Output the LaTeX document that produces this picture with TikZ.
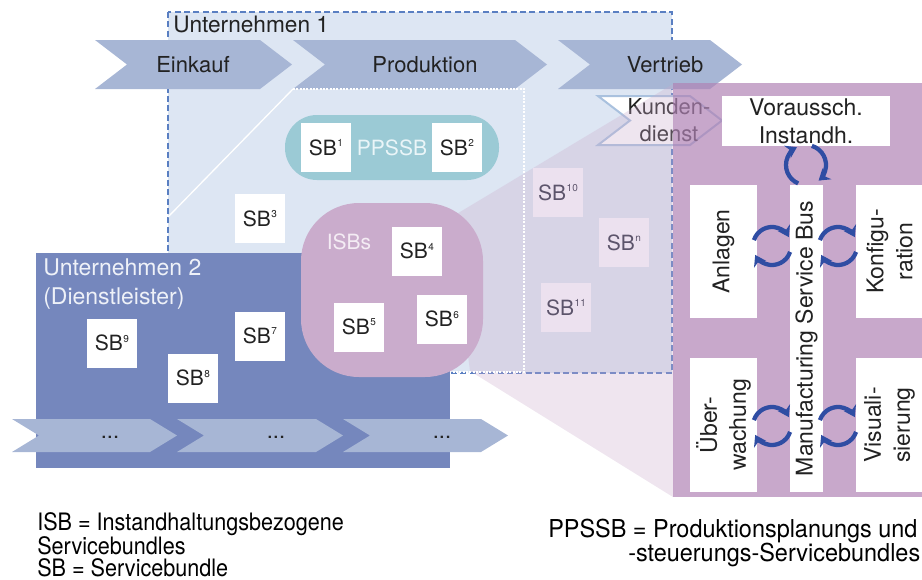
\documentclass[tikz,border=0pt]{standalone}
\usepackage{fontspec}
\setmainfont{TeX Gyre Heros}
\newfontfamily\legendL[FakeStretch=0.9]{TeX Gyre Heros}
\newfontfamily\legendR[FakeStretch=0.95]{TeX Gyre Heros}
\usetikzlibrary{arrows.meta}

\definecolor{unefill}{HTML}{DDE6F3}
\definecolor{uneline}{HTML}{5A7FC2}
\definecolor{chevcol}{HTML}{A7B6D5}
\definecolor{kdline}{HTML}{A9C1DE}
\definecolor{pillcol}{HTML}{9BCAD5}
\definecolor{pilltext}{HTML}{EAF5F8}
\definecolor{unzfill}{HTML}{7587BD}
\definecolor{unztext}{HTML}{EEF1F8}
\definecolor{isbcol}{HTML}{CAACCC}
\definecolor{isbtext}{HTML}{F4ECF4}
\definecolor{palesb}{HTML}{ECE1EF}
\definecolor{palesbtext}{HTML}{5C546B}
\definecolor{panelbase}{HTML}{B083B5}
\definecolor{cycblue}{HTML}{2F4DA3}
\definecolor{textdark}{HTML}{222222}

\newcommand\fsz[1]{\fontsize{#1}{#1}\selectfont}
\newcommand\sbl[1]{SB\kern0.4pt\raisebox{6.5pt}{\fontsize{7.5}{7.5}\selectfont #1}}

\begin{document}
\begin{tikzpicture}[x=0.75pt,y=-0.75pt,
  chevlabel/.style={font=\fsz{16.5}, text=textdark, inner sep=0},
  sbbox/.style={fill=white, minimum width=37.5pt, minimum height=36.75pt, inner sep=0,
    font=\fsz{15.75}, text=textdark},
  palebox/.style={sbbox, fill=palesb, text=palesbtext},
  wbox/.style={fill=white, inner sep=1pt, font=\fsz{17.25}, text=textdark, align=center},
  cyc/.style={draw=cycblue, line width=3.2pt, -{Stealth[length=8pt,width=10.5pt]}},
  legend/.style={anchor=north west, align=left, inner sep=0, text=black}]

\useasboundingbox (0,0) rectangle (922,579);

% ---------- Unternehmen 1 ----------
\fill[unefill] (168,12) rectangle (672,373);
\draw[uneline, line width=1pt, dash pattern=on 4.5pt off 2.5pt] (168,12) rectangle (672,373);
\node[anchor=west, inner sep=0, font=\fsz{17}, text=textdark] (une) at (173,24) {Unternehmen 1};

% value chain of company 1
\fill[chevcol] (95,40) -- (260,40) -- (292,64.5) -- (260,89) -- (95,89) -- (127,64.5) -- cycle;
\fill[chevcol] (293,40) -- (515,40) -- (547,64.5) -- (515,89) -- (293,89) -- (325,64.5) -- cycle;
\fill[chevcol] (558,40) -- (710,40) -- (742,64.5) -- (710,89) -- (558,89) -- (590,64.5) -- cycle;
\node[chevlabel] (einkauf) at (193,65) {Einkauf};
\node[chevlabel] (prod) at (425,65) {Produktion};
\node[chevlabel] (vertrieb) at (665,65) {Vertrieb};

% customer service step
\draw[kdline, line width=1.5pt, fill=white] (598,96) -- (690,96) -- (722,120.5) -- (690,145) -- (598,145) -- (630,120.5) -- cycle;
\node[align=center, inner sep=0, font=\fontsize{16.5}{20}\selectfont, text=textdark] (kunden) at (669,120) {Kunden-\\dienst};

% projection of the maintenance bundles onto the service bus
\fill[isbcol, opacity=0.31] (450,218) -- (673,84) -- (673,497) -- (470,371) -- cycle;

% projection of the production step
\draw[white, line width=1pt] (168,217) -- (293,89);
\draw[white, line width=1pt, dash pattern=on 1.5pt off 1pt] (293,89) -- (524,89) -- (524,372) -- (450,372);

% PPSSB group
\node[fill=pillcol, rounded corners=24pt, minimum width=160.5pt, minimum height=48.75pt,
      font=\fsz{15.75}, text=pilltext, inner sep=0] (ppssb) at (392,147.5) {PPSSB};
\node[sbbox] (sb1) at (326,147.5) {\sbl{1}};
\node[sbbox] (sb2) at (457,147.5) {\sbl{2}};
\node[sbbox] (sb3) at (260,218.5) {\sbl{3}};

% ---------- Unternehmen 2 ----------
\node[fill=unzfill, minimum width=310.5pt, minimum height=161.25pt, inner sep=0] (unz) at (243,360.5) {};
\node[anchor=north west, align=left, inner sep=0, font=\fontsize{17.25}{21.75}\selectfont, text=unztext]
  (unzlabel) at (43,258) {Unternehmen 2\\(Dienstleister)};

% value chain of company 2
\fill[chevcol] (12,419) -- (150,419) -- (177,435.5) -- (150,452) -- (12,452) -- (39,435.5) -- cycle;
\fill[chevcol] (177,419) -- (316,419) -- (343,435.5) -- (316,452) -- (177,452) -- (204,435.5) -- cycle;
\fill[chevcol] (343,419) -- (481,419) -- (508,435.5) -- (481,452) -- (343,452) -- (370,435.5) -- cycle;
\node[chevlabel] (dotsa) at (110,437) {...};
\node[chevlabel] (dotsb) at (276,437) {...};
\node[chevlabel] (dotsc) at (442,437) {...};

\node[sbbox] (sb7) at (260,336) {\sbl{7}};
\node[sbbox] (sb8) at (193,378) {\sbl{8}};
\node[sbbox] (sb9) at (112,343) {\sbl{9}};

% ISB group
\node[fill=isbcol, rounded corners=43.5pt, minimum width=136.5pt, minimum height=130.5pt, inner sep=0] (isb) at (392,290) {};
\node[inner sep=0, font=\fsz{15.75}, text=isbtext] (isblabel) at (349,242) {ISBs};
\node[sbbox] (sb4) at (417,251) {\sbl{4}};
\node[sbbox] (sb5) at (359,327) {\sbl{5}};
\node[sbbox] (sb6) at (442,319) {\sbl{6}};

% further bundles
\node[palebox] (sb10) at (558,192.5) {\sbl{10}};
\node[palebox] (sbn) at (624,242.5) {\sbl{n}};
\node[palebox] (sb11) at (566,307.5) {\sbl{11}};

% ---------- Manufacturing Service Bus ----------
\fill[panelbase, opacity=0.7] (673,83) rectangle (922,497);

\node[wbox, minimum width=126pt, minimum height=37.5pt, font=\fontsize{17.25}{21}\selectfont] (vorau) at (806,121) {Voraussch.\\Instandh.};
\node[wbox, rotate=90, minimum width=99.75pt, minimum height=50.25pt] (anlagen) at (723.5,251.5) {Anlagen};
\node[wbox, rotate=90, minimum width=230.25pt, minimum height=24.75pt] (bus) at (806.5,338.5) {Manufacturing Service Bus};
\node[wbox, rotate=90, minimum width=99.75pt, minimum height=50.25pt, font=\fontsize{17.25}{21.75}\selectfont] (konfig) at (889.5,251.5) {Konfigu-\\ration};
\node[wbox, rotate=90, minimum width=100.5pt, minimum height=50.25pt, font=\fontsize{17.25}{21.75}\selectfont] (ueber) at (723.5,425) {Über-\\wachung};
\node[wbox, rotate=90, minimum width=100.5pt, minimum height=50.25pt, font=\fontsize{17.25}{21.75}\selectfont] (visual) at (889.5,425) {Visuali-\\sierung};

% exchange cycles between the services and the bus
\coordinate (cv) at (806,165);
\coordinate (cal) at (772,246);
\coordinate (ckr) at (838,246);
\coordinate (cul) at (772,426);
\coordinate (cvr) at (838,426);
\draw[cyc] (cv) ++(113:20) arc[start angle=113, end angle=243, radius=20];
\draw[cyc] (cv) ++(287:20) arc[start angle=287, end angle=411, radius=20];
\foreach \c in {cal,ckr,cul,cvr}{
  \draw[cyc] (\c) ++(198:19) arc[start angle=198, end angle=332, radius=19];
  \draw[cyc] (\c) ++(18:19) arc[start angle=18, end angle=152, radius=19];
}

% ---------- legend ----------
\node[legend, font=\legendL\fontsize{18}{16.7}\selectfont] (legl) at (37,512)
  {ISB = Instandhaltungsbezogene\\Servicebundles\\SB = Servicebundle};
\node[legend, font=\legendR\fontsize{18.5}{18}\selectfont] (legr) at (548,519)
  {PPSSB = Produktionsplanungs und\\\hspace*{60pt}-steuerungs-Servicebundles};

\end{tikzpicture}
\end{document}
